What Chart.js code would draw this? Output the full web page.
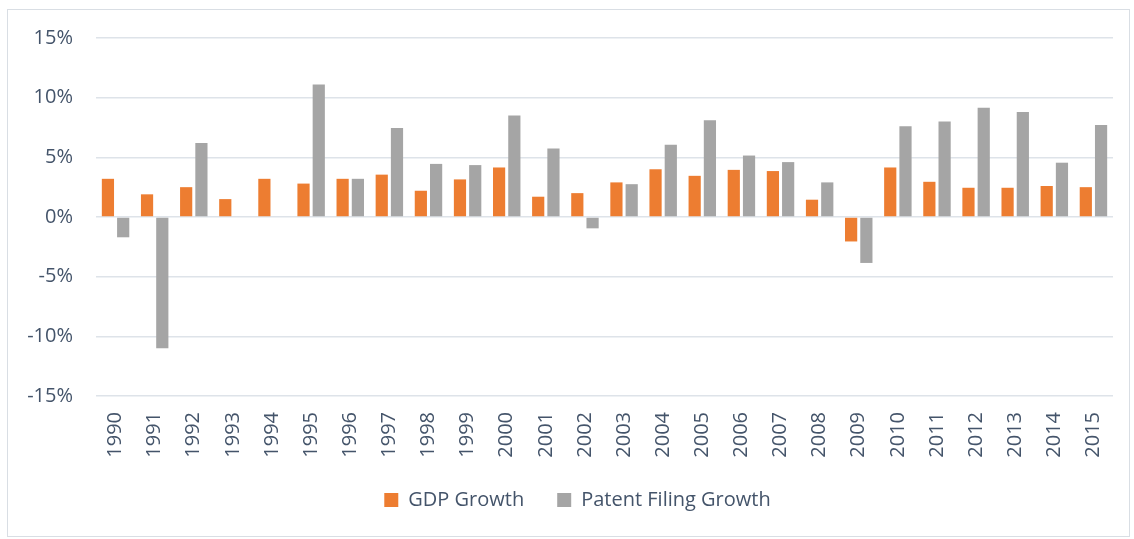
<!DOCTYPE html>
<html>
<head>
<meta charset="utf-8">
<script src="https://cdn.jsdelivr.net/npm/chart.js@4"></script>
<style>
  html, body { margin: 0; padding: 0; background: #fff; }
  #wrap { position: relative; width: 1134px; height: 539px; }
  #frame { position: absolute; left: 7px; top: 9px; width: 1123px; height: 528px; border: 1px solid #D9DEE4; box-sizing: border-box; }
  canvas { position: absolute; left: 0; top: 0; }
</style>
</head>
<body>
<div id="wrap">
  <div id="frame"></div>
  <canvas id="c" width="1134" height="539"></canvas>
</div>
<script>
const years = ['1990','1991','1992','1993','1994','1995','1996','1997','1998','1999','2000','2001','2002','2003','2004','2005','2006','2007','2008','2009','2010','2011','2012','2013','2014','2015'];
const gdpGrowth = [3.2, 1.9, 2.5, 1.5, 3.2, 2.8, 3.2, 3.55, 2.2, 3.15, 4.15, 1.7, 2.0, 2.9, 4.0, 3.45, 3.95, 3.85, 1.45, -2.05, 4.15, 2.95, 2.45, 2.45, 2.6, 2.5];
const patentGrowth = [-1.7, -11.0, 6.2, null, null, 11.1, 3.2, 7.45, 4.45, 4.35, 8.5, 5.75, -0.95, 2.75, 6.05, 8.1, 5.15, 4.6, 2.9, -3.85, 7.6, 8.0, 9.15, 8.8, 4.55, 7.7];
const yTicks = [-15, -10, -5, 0, 5, 10, 15];

const textColor = '#44546A';
const gridColor = '#DEE3E9';
const fontFamily = '"Open Sans", "Noto Sans", sans-serif';

// shift the legend block so it is centred where the reference has it
const legendShift = {
  id: 'legendShift',
  afterLayout(chart) {
    if (chart.legend) { chart.legend.left += 16; chart.legend.right += 16; }
  }
};

new Chart(document.getElementById('c'), {
  type: 'bar',
  data: {
    labels: years,
    datasets: [
      { label: 'GDP Growth', data: gdpGrowth, backgroundColor: '#ED7D31', borderWidth: 0 },
      { label: 'Patent Filing Growth', data: patentGrowth, backgroundColor: '#A5A5A5', borderWidth: 0 }
    ]
  },
  plugins: [legendShift],
  options: {
    responsive: false,
    animation: false,
    layout: { padding: { left: 10, right: 21, top: 38, bottom: 19 } },
    datasets: { bar: { categoryPercentage: 0.78, barPercentage: 0.8 } },
    plugins: {
      legend: {
        position: 'bottom',
        labels: {
          color: textColor,
          font: { family: fontFamily, size: 20 },
          boxWidth: 14, boxHeight: 14,
          padding: 33
        }
      },
      tooltip: { enabled: false }
    },
    scales: {
      x: {
        afterFit: s => { s.height = 61; },
        grid: { display: false, drawTicks: false },
        border: { display: false },
        ticks: {
          color: textColor,
          font: { family: fontFamily, size: 20 },
          minRotation: 90, maxRotation: 90,
          padding: 16,
          autoSkip: false
        }
      },
      y: {
        min: -15, max: 15,
        afterFit: s => { s.width = 86; },
        afterBuildTicks: s => { s.ticks = yTicks.map(v => ({ value: v })); },
        grid: { color: gridColor, lineWidth: 1.5, drawTicks: false },
        border: { display: false },
        ticks: {
          color: textColor,
          font: { family: fontFamily, size: 20 },
          padding: 23,
          callback: v => v + '%'
        }
      }
    }
  }
});
</script>
</body>
</html>
